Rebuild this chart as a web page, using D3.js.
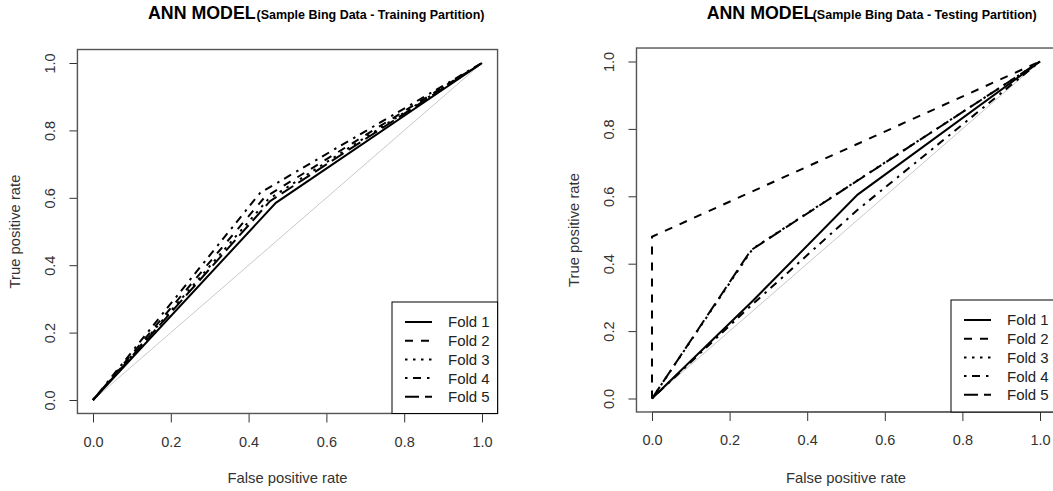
<!DOCTYPE html>
<html>
<head>
<meta charset="utf-8">
<script src="https://cdn.jsdelivr.net/npm/d3@7"></script>
<style>
    body { margin: 0; background: #fff; }
    svg { display: block; }
    text { font-family: "Liberation Sans", Arial, sans-serif; }
</style>
</head>
<body>
<div id="chart"></div>
<script>
const foldNames = ["Fold 1", "Fold 2", "Fold 3", "Fold 4", "Fold 5"]
const foldDash = ["none", "8,8", "2.5,5.5", "2.5,5.5,8,6", "14,6"]
const tickValues = [0, 0.2, 0.4, 0.6, 0.8, 1.0]

// training partition, one row per fold
const trainFpr = [
    [0, 0.47, 1],
    [0, 0.44, 1],
    [0, 0.45, 1],
    [0, 0.43, 1],
    [0, 0.455, 1]
]
const trainTpr = [
    [0, 0.585, 1],
    [0, 0.60, 1],
    [0, 0.595, 1],
    [0, 0.615, 1],
    [0, 0.59, 1]
]

// testing partition
const testFpr = [
    [0, 0.26, 0.53, 1],
    [0, 0, 1],
    [0, 0.26, 1],
    [0, 0.25, 0.53, 1],
    [0, 0.255, 1]
]
const testTpr = [
    [0, 0.29, 0.605, 1],
    [0, 0.48, 1],
    [0, 0.445, 1],
    [0, 0.27, 0.56, 1],
    [0, 0.44, 1]
]

const W = 1053, H = 491

const svg = d3.select("#chart")
    .append("svg")
        .attr("width", W)
        .attr("height", H)

function drawPanel(p) {
    const x = d3.scaleLinear().domain([0, 1]).range(p.xRange)
    const y = d3.scaleLinear().domain([0, 1]).range(p.yRange)
    const g = svg.append("g")

    const bx0 = x(-0.04), bx1 = x(1.04), by0 = y(-0.04), by1 = y(1.04)

    // title
    g.append("text")
        .attr("x", p.titleX)
        .attr("y", 19.3)
        .attr("font-size", 17.8)
        .attr("font-weight", "bold")
        .text("ANN MODEL")
    g.append("text")
        .attr("x", p.subX)
        .attr("y", 18.8)
        .attr("font-family", "'Open Sans', 'Noto Sans', sans-serif")
        .attr("font-size", 13.4)
        .attr("font-weight", "bold")
        .attr("textLength", p.subLen)
        .attr("lengthAdjust", "spacingAndGlyphs")
        .text(p.subtitle)

    // axes
    const xAxis = d3.axisBottom(x).tickValues(tickValues).tickFormat(d3.format(".1f")).tickSize(9).tickPadding(14)
    const yAxis = d3.axisLeft(y).tickValues(tickValues).tickFormat(d3.format(".1f")).tickSize(8)

    const gx = g.append("g")
        .attr("transform", `translate(0,${by0})`)
        .call(xAxis)
    gx.select(".domain").attr("d", `M${x(0)},0H${x(1)}`)
    gx.selectAll("text").attr("font-size", 14.5).attr("fill", "#333").attr("font-family", null)
    gx.selectAll("line, path").attr("stroke", "#333")

    const gy = g.append("g")
        .attr("transform", `translate(${bx0},0)`)
        .call(yAxis)
    gy.select(".domain").attr("d", `M0,${y(0)}V${y(1)}`)
    gy.selectAll("line, path").attr("stroke", "#333")
    gy.selectAll("text")
        .attr("font-size", 14.5)
        .attr("fill", "#333")
        .attr("font-family", null)
        .attr("x", null)
        .attr("dy", null)
        .attr("text-anchor", "middle")
        .attr("transform", "translate(-22,0) rotate(-90)")

    g.append("text")
        .attr("x", (x(0) + x(1)) / 2)
        .attr("y", 483.3)
        .attr("text-anchor", "middle")
        .attr("font-size", 14.8)
        .attr("fill", "#333")
        .text("False positive rate")
    g.append("text")
        .attr("transform", `translate(${p.yTitleX},${(y(0) + y(1)) / 2}) rotate(-90)`)
        .attr("text-anchor", "middle")
        .attr("font-size", 14.8)
        .attr("fill", "#333")
        .text("True positive rate")

    // chance line
    g.append("line")
        .attr("x1", x(0)).attr("y1", y(0))
        .attr("x2", x(1)).attr("y2", y(1))
        .attr("stroke", "#c8c8c8")
        .attr("stroke-width", 1)

    const line = d3.line()
        .x(d => x(d[0]))
        .y(d => y(d[1]))

    g.selectAll("path.roc")
        .data(p.fpr.map((f, i) => f.map((v, j) => [v, p.tpr[i][j]])))
        .enter()
        .append("path")
        .attr("class", "roc")
        .attr("d", line)
        .attr("fill", "none")
        .attr("stroke", "#000")
        .attr("stroke-width", 2)
        .attr("stroke-dasharray", (d, i) => foldDash[i])

    // plot frame
    g.append("rect")
        .attr("x", bx0).attr("y", by1)
        .attr("width", bx1 - bx0)
        .attr("height", by0 - by1)
        .attr("fill", "none")
        .attr("stroke", "#555")
        .attr("stroke-width", 1.4)

    // legend
    const lg = g.append("g")
    lg.append("rect")
        .attr("x", p.legendX).attr("y", p.legendY)
        .attr("width", bx1 - p.legendX)
        .attr("height", by0 - p.legendY)
        .attr("fill", "#fff")
        .attr("stroke", "#000")
        .attr("stroke-width", 1)
    const row = lg.selectAll("g.row")
        .data(foldNames)
        .enter()
        .append("g")
        .attr("class", "row")
        .attr("transform", (d, i) => `translate(${p.legendX},${p.legendY + 20 + i * 18.7})`)
    row.append("line")
        .attr("x1", 13).attr("x2", 40)
        .attr("stroke", "#000")
        .attr("stroke-width", 2)
        .attr("stroke-dasharray", (d, i) => foldDash[i])
    row.append("text")
        .attr("x", 56)
        .attr("y", 5.4)
        .attr("font-size", 15)
        .attr("fill", "#222")
        .text(d => d)
}

drawPanel({
    xRange: [93, 482],
    yRange: [400, 63],
    titleX: 148,
    subX: 256.5,
    subLen: 228,
    subtitle: "(Sample Bing Data - Training Partition)",
    yTitleX: 20,
    fpr: trainFpr,
    tpr: trainTpr,
    legendX: 392,
    legendY: 302
})

drawPanel({
    xRange: [652, 1040],
    yRange: [398.5, 61.5],
    titleX: 706.7,
    subX: 812.7,
    subLen: 224,
    subtitle: "(Sample Bing Data - Testing Partition)",
    yTitleX: 579,
    fpr: testFpr,
    tpr: testTpr,
    legendX: 951,
    legendY: 300
})
</script>
</body>
</html>
